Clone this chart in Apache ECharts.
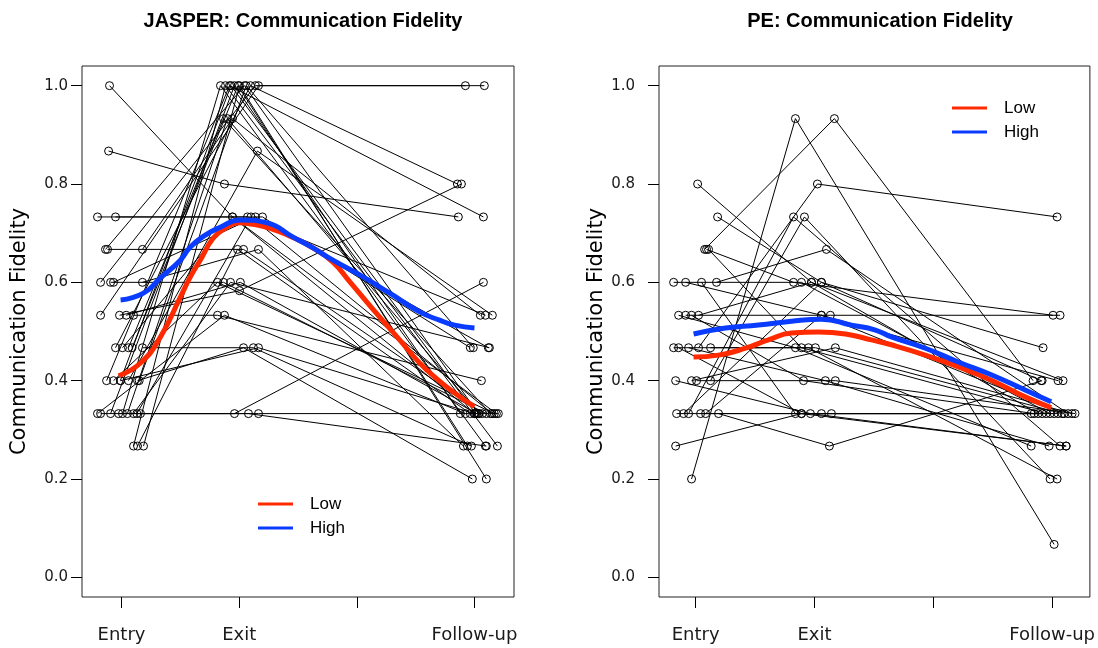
<!DOCTYPE html>
<html>
<head>
<meta charset="utf-8">
<script src="https://cdn.jsdelivr.net/npm/echarts@6/dist/echarts.min.js"></script>
<style>
  html, body { margin: 0; padding: 0; background: #fff; }
  #chart { width: 1098px; height: 648px; }
</style>
</head>
<body>
<div id="chart"></div>
<script>
// time points: Entry = 1, Exit = 2, Follow-up = 4 (x values are jittered)
const timeTicks = [1, 2, 3, 4]
const timeLabels = { 1: 'Entry', 2: 'Exit', 4: 'Follow-up' }
const yTicks = [0, 0.2, 0.4, 0.6, 0.8, 1.0]

// JASPER subjects
const jasperEntryX = [0.898, 0.890, 0.796, 0.949, 0.864, 0.881, 1.178, 0.822, 0.907, 0.932, 1.178, 0.822, 0.983, 1.102, 0.949, 1.059, 1.178, 0.873, 0.932, 1.059, 1.136, 0.822, 0.907, 1.008, 1.102, 1.161, 1.102, 1.187, 0.796, 1.136, 0.992, 0.975, 1.008, 0.990, 1.050, 1.090, 1.130, 1.150, 1.040]
const jasperEntryY = [1.000, 0.867, 0.733, 0.733, 0.667, 0.667, 0.667, 0.600, 0.600, 0.600, 0.600, 0.533, 0.533, 0.533, 0.467, 0.467, 0.467, 0.400, 0.400, 0.400, 0.400, 0.333, 0.333, 0.333, 0.333, 0.333, 0.267, 0.267, 0.333, 0.267, 0.400, 0.333, 0.467, 0.400, 0.333, 0.467, 0.333, 0.400, 0.533]
const jasperExitX = [1.943, 1.875, 2.198, 2.071, 2.045, 2.037, 1.943, 2.138, 1.867, 2.138, 2.164, 2.164, 2.003, 1.816, 2.096, 1.867, 2.121, 1.918, 1.816, 2.155, 2.037, 2.164, 1.960, 1.841, 1.926, 1.960, 1.884, 2.003, 1.875, 1.986, 2.164, 2.079, 1.943, 1.930, 1.900, 1.990, 2.100, 2.060, 2.010]
const jasperExitY = [0.733, 0.800, 0.733, 0.733, 1.000, 0.667, 0.933, 1.000, 0.600, 0.733, 0.667, 1.000, 0.583, 0.533, 1.000, 0.933, 0.467, 1.000, 0.600, 0.867, 0.467, 0.333, 1.000, 1.000, 0.600, 0.333, 1.000, 1.000, 0.533, 0.667, 0.467, 0.333, 0.733, 1.000, 0.933, 1.000, 0.733, 1.000, 0.600]
const jasperFuX = [3.999, 3.863, 3.965, 4.093, 4.033, 4.067, 4.050, 3.923, 4.101, 4.118, 3.906, 4.084, 3.889, 4.059, 3.855, 4.135, 3.974, 4.076, 4.169, 4.152, 3.982, 4.203, 3.880, 4.093, 4.127, 4.076, 4.195, 4.101, 3.923, 3.965, 3.999, 4.101, 4.186, 4.010, 4.040, 3.940, 4.150, 3.990, 4.020]
const jasperFuY = [0.333, 0.733, 0.467, 0.533, 0.333, 0.333, 0.533, 1.000, 0.333, 0.467, 0.267, 1.000, 0.800, 0.400, 0.800, 0.333, 0.267, 0.733, 0.333, 0.533, 0.200, 0.333, 0.333, 0.267, 0.467, 0.600, 0.267, 0.200, 0.333, 0.333, 0.333, 0.267, 0.333, 0.333, 0.333, 0.267, 0.333, 0.467, 0.333]

// JASPER smoothed curves
const jasperLowX = [0.975, 1.161, 1.331, 1.500, 1.585, 1.669, 1.780, 1.881, 1.992, 2.119, 2.263, 2.432, 2.627, 2.797, 2.941, 3.195, 3.364, 3.534, 3.703, 3.831, 4.000]
const jasperLowY = [0.410, 0.436, 0.489, 0.570, 0.611, 0.645, 0.690, 0.710, 0.721, 0.718, 0.710, 0.694, 0.670, 0.641, 0.601, 0.529, 0.483, 0.436, 0.399, 0.375, 0.347]
const jasperHighX = [0.992, 1.186, 1.331, 1.500, 1.585, 1.712, 1.839, 2.008, 2.237, 2.458, 2.627, 2.797, 3.025, 3.280, 3.534, 3.703, 3.831, 4.000]
const jasperHighY = [0.564, 0.578, 0.609, 0.645, 0.672, 0.696, 0.712, 0.727, 0.721, 0.692, 0.670, 0.645, 0.615, 0.578, 0.540, 0.523, 0.513, 0.507]

// PE subjects
const peEntryX = [1.017, 1.185, 0.966, 1.076, 1.025, 0.941, 1.126, 1.092, 1.109, 0.815, 0.916, 1.050, 1.176, 0.857, 0.916, 0.966, 1.025, 0.815, 0.857, 0.941, 1.126, 0.832, 0.966, 1.008, 0.840, 0.899, 1.042, 1.084, 1.193, 0.832]
const peEntryY = [0.800, 0.733, 0.200, 0.667, 0.467, 0.333, 0.400, 0.667, 0.667, 0.600, 0.600, 0.600, 0.600, 0.533, 0.533, 0.533, 0.533, 0.467, 0.467, 0.467, 0.467, 0.400, 0.400, 0.400, 0.333, 0.333, 0.333, 0.333, 0.333, 0.267]
const peExitX = [1.975, 2.059, 1.840, 2.168, 2.025, 1.824, 1.916, 1.824, 1.891, 1.891, 2.059, 1.840, 2.101, 1.840, 2.134, 1.908, 1.975, 1.950, 1.891, 2.092, 2.008, 1.966, 2.176, 2.176, 2.059, 2.059, 2.143, 2.059, 2.126, 1.891]
const peExitY = [0.600, 0.600, 0.933, 0.933, 0.800, 0.733, 0.733, 0.600, 0.467, 0.600, 0.533, 0.333, 0.667, 0.467, 0.533, 0.400, 0.600, 0.467, 0.333, 0.400, 0.467, 0.333, 0.467, 0.400, 0.333, 0.600, 0.333, 0.533, 0.267, 0.333]
const peFuX = [3.882, 3.908, 4.017, 3.840, 4.042, 4.067, 3.983, 4.008, 3.950, 3.983, 4.050, 4.050, 4.134, 3.824, 4.067, 3.849, 4.092, 4.042, 3.916, 3.975, 4.084, 4.118, 4.168, 4.193, 3.824, 3.924, 4.017, 4.101, 3.916, 4.118]
const peFuY = [0.333, 0.400, 0.067, 0.400, 0.733, 0.267, 0.200, 0.533, 0.333, 0.333, 0.400, 0.333, 0.333, 0.267, 0.533, 0.333, 0.400, 0.200, 0.333, 0.267, 0.333, 0.267, 0.333, 0.333, 0.333, 0.467, 0.333, 0.333, 0.400, 0.267]

// PE smoothed curves
const peLowX = [0.983, 1.193, 1.420, 1.613, 1.807, 2.034, 2.261, 2.479, 2.647, 2.933, 3.210, 3.487, 3.773, 3.992]
const peLowY = [0.448, 0.452, 0.466, 0.483, 0.497, 0.499, 0.495, 0.483, 0.473, 0.452, 0.428, 0.401, 0.367, 0.345]
const peHighX = [0.983, 1.252, 1.529, 1.807, 2.059, 2.311, 2.513, 2.647, 2.933, 3.210, 3.487, 3.773, 3.992]
const peHighY = [0.495, 0.507, 0.513, 0.521, 0.525, 0.513, 0.503, 0.489, 0.466, 0.438, 0.412, 0.381, 0.357]

const tickFont = 'DejaVu Sans'
const zip = (xs, ys) => xs.map((x, i) => [x, ys[i]])

// one black polyline with open circles per subject
function subjectSeries(ex, ey, xx, xy, fx, fy, idx) {
  return ex.map((_, i) => ({
    type: 'line',
    name: 's' + idx + '_' + i,
    xAxisIndex: idx,
    yAxisIndex: idx,
    data: [[ex[i], ey[i]], [xx[i], xy[i]], [fx[i], fy[i]]],
    symbol: 'circle',
    symbolSize: 8,
    showAllSymbol: true,
    itemStyle: { color: 'rgba(0,0,0,0)', borderColor: '#000', borderWidth: 1 },
    lineStyle: { color: '#000', width: 1 },
    silent: true,
    z: 2
  }))
}

function curve(name, xs, ys, color, idx) {
  return {
    type: 'line',
    name: name,
    xAxisIndex: idx,
    yAxisIndex: idx,
    data: zip(xs, ys),
    smooth: true,
    showSymbol: false,
    symbol: 'none',
    itemStyle: { color: color },
    lineStyle: { color: color, width: 5 },
    z: 5
  }
}

function xAxisFor(idx, min, max) {
  return {
    type: 'value',
    gridIndex: idx,
    min: min,
    max: max,
    axisLine: { show: false, onZero: false },
    splitLine: { show: false },
    axisTick: { show: true, length: 11, customValues: timeTicks, lineStyle: { color: '#000', width: 1 } },
    axisLabel: {
      customValues: [1, 2, 4],
      formatter: v => timeLabels[Math.round(v)] || '',
      margin: 29,
      fontSize: 18,
      fontFamily: tickFont,
      color: '#1a1a1a'
    }
  }
}

function yAxisFor(idx, labelMargin) {
  return {
    type: 'value',
    gridIndex: idx,
    min: -0.04,
    max: 1.04,
    name: 'Communication Fidelity',
    nameLocation: 'middle',
    nameGap: 52,
    nameTextStyle: { fontSize: 21, fontFamily: tickFont, color: '#000' },
    axisLine: { show: false, onZero: false },
    splitLine: { show: false },
    axisTick: { show: true, length: 11, customValues: yTicks, lineStyle: { color: '#000', width: 1 } },
    axisLabel: {
      customValues: yTicks,
      formatter: v => v.toFixed(1),
      margin: labelMargin,
      fontSize: 15,
      fontFamily: tickFont,
      color: '#1a1a1a'
    }
  }
}

const legendBase = {
  orient: 'vertical',
  data: ['Low', 'High'],
  icon: 'rect',
  itemWidth: 35,
  itemHeight: 3,
  itemGap: 4,
  padding: 0,
  selectedMode: false,
  textStyle: { fontSize: 17, fontFamily: 'Liberation Sans', color: '#000', lineHeight: 20, padding: [0, 0, 0, 12] }
}

const chart = echarts.init(document.getElementById('chart'))
chart.setOption({
  animation: false,
  backgroundColor: '#fff',
  title: [
    { text: 'JASPER: Communication Fidelity', left: 298, top: 6, textAlign: 'center',
      textStyle: { fontSize: 20, fontWeight: 'bold', fontFamily: 'Liberation Sans', color: '#000' } },
    { text: 'PE: Communication Fidelity', left: 875, top: 6, textAlign: 'center',
      textStyle: { fontSize: 20, fontWeight: 'bold', fontFamily: 'Liberation Sans', color: '#000' } }
  ],
  legend: [
    Object.assign({}, legendBase, { left: 258, top: 494 }),
    Object.assign({}, legendBase, { left: 952, top: 98 })
  ],
  grid: [
    { left: 82, top: 66, width: 432, height: 531, show: true, borderColor: '#222', borderWidth: 1, backgroundColor: 'transparent' },
    { left: 659, top: 66, width: 433, height: 531, show: true, borderColor: '#222', borderWidth: 1, backgroundColor: 'transparent' }
  ],
  xAxis: [xAxisFor(0, 0.664, 4.336), xAxisFor(1, 0.692, 4.318)],
  yAxis: [yAxisFor(0, 14), yAxisFor(1, 24)],
  series: [].concat(
    subjectSeries(jasperEntryX, jasperEntryY, jasperExitX, jasperExitY, jasperFuX, jasperFuY, 0),
    subjectSeries(peEntryX, peEntryY, peExitX, peExitY, peFuX, peFuY, 1),
    [
      curve('Low', jasperLowX, jasperLowY, '#ff2a00', 0),
      curve('High', jasperHighX, jasperHighY, '#0a3cff', 0),
      curve('Low', peLowX, peLowY, '#ff2a00', 1),
      curve('High', peHighX, peHighY, '#0a3cff', 1)
    ]
  )
})
</script>
</body>
</html>
